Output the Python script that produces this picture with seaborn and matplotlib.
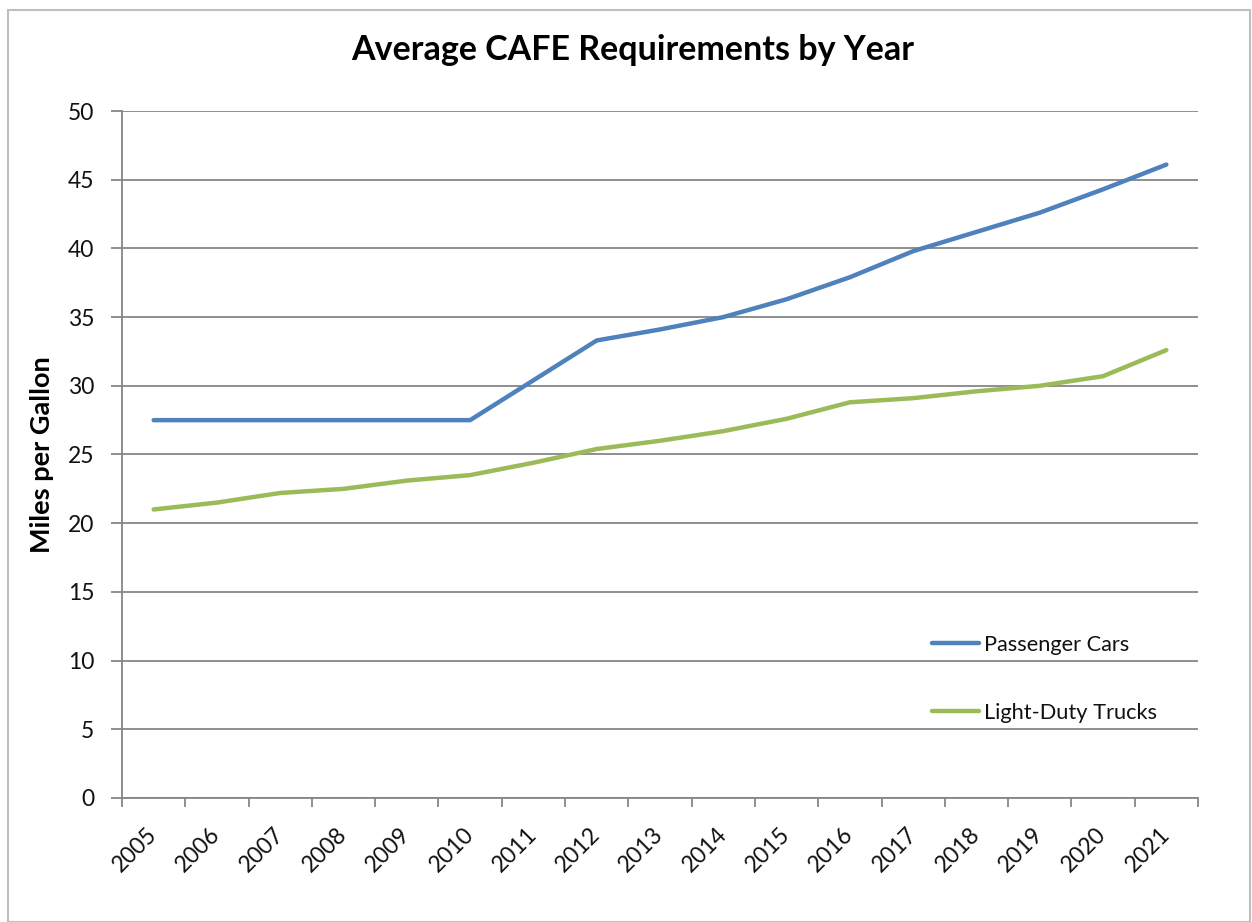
import matplotlib
matplotlib.use("Agg")
import matplotlib.pyplot as plt
import seaborn as sns
import pandas as pd
from matplotlib.patches import Rectangle

years = [str(y) for y in range(2005, 2022)]
passenger_cars = [27.5, 27.5, 27.5, 27.5, 27.5, 27.5, 30.4, 33.3, 34.1, 35.0, 36.3,
                  37.9, 39.8, 41.2, 42.6, 44.3, 46.1]
light_trucks = [21.0, 21.5, 22.2, 22.5, 23.1, 23.5, 24.4, 25.4, 26.0, 26.7, 27.6,
                28.8, 29.1, 29.6, 30.0, 30.7, 32.6]
series_names = ["Passenger Cars", "Light-Duty Trucks"]
colors = ["#4F81BD", "#9BBB59"]
y_ticks = list(range(0, 51, 5))

sns.set_theme(style="white")
plt.rcParams['font.family'] = ['Lato', 'DejaVu Sans']
plt.rcParams['text.color'] = 'black'

df = pd.DataFrame({
    "idx": list(range(len(years))) * 2,
    "value": passenger_cars + light_trucks,
    "series": [series_names[0]] * len(years) + [series_names[1]] * len(years),
})

fig = plt.figure(figsize=(12.52, 9.22), dpi=100)
ax = fig.add_axes([122/1252, 1 - 798/922, (1198-122)/1252, (798-111)/922])

sns.lineplot(data=df, x="idx", y="value", hue="series", palette=colors,
             linewidth=3.2, ax=ax, legend=True)

ax.set_xlim(-0.5, len(years) - 0.5)
ax.set_ylim(0, 50)
ax.set_yticks(y_ticks)
ax.set_yticklabels([str(v) for v in y_ticks], fontsize=16.5, color="#111111")
ax.grid(axis="y", color="#868686", linewidth=1.3)
ax.set_axisbelow(True)

ax.set_xticks(range(len(years)))
ax.set_xticklabels(years, fontsize=16.5, rotation=45, ha="right", va="center",
                   rotation_mode="anchor", color="#111111")
ax.set_xticks([i - 0.5 for i in range(len(years) + 1)], minor=True)
ax.tick_params(axis="x", which="major", length=0, pad=24)
ax.tick_params(axis="x", which="minor", length=6.5, color="#868686", width=1.3, bottom=True)
ax.tick_params(axis="y", which="major", length=8, color="#868686", width=1.3, left=True, pad=12)

for s in ["top", "right"]:
    ax.spines[s].set_visible(False)
for s in ["left", "bottom"]:
    ax.spines[s].set_color("#868686")
    ax.spines[s].set_linewidth(1.3)

ax.set_xlabel("")
ax.set_ylabel("Miles per Gallon", fontsize=19.5, fontweight="bold", labelpad=10,
              color="black")

fig.text(633/1252, 1 - 50/922, "Average CAFE Requirements by Year",
         fontsize=24.5, fontweight="bold", ha="center", va="center", color="black")

leg = ax.legend(loc="upper left", bbox_to_anchor=(912/1252, 1 - 615/922),
                bbox_transform=fig.transFigure, frameon=False, fontsize=15.7,
                handlelength=2.15, handletextpad=0.25, labelspacing=2.2)
for line in leg.get_lines():
    line.set_linewidth(3.2)
for t in leg.get_texts():
    t.set_color("#111111")

fig.patches.append(Rectangle((8/1252, 0.0), 1 - 8/1252 - 2/1252, 1 - 10/922,
                             transform=fig.transFigure, fill=False,
                             edgecolor="#BFBFBF", linewidth=1.5))

fig.savefig("out.png", dpi=100, facecolor="white")
